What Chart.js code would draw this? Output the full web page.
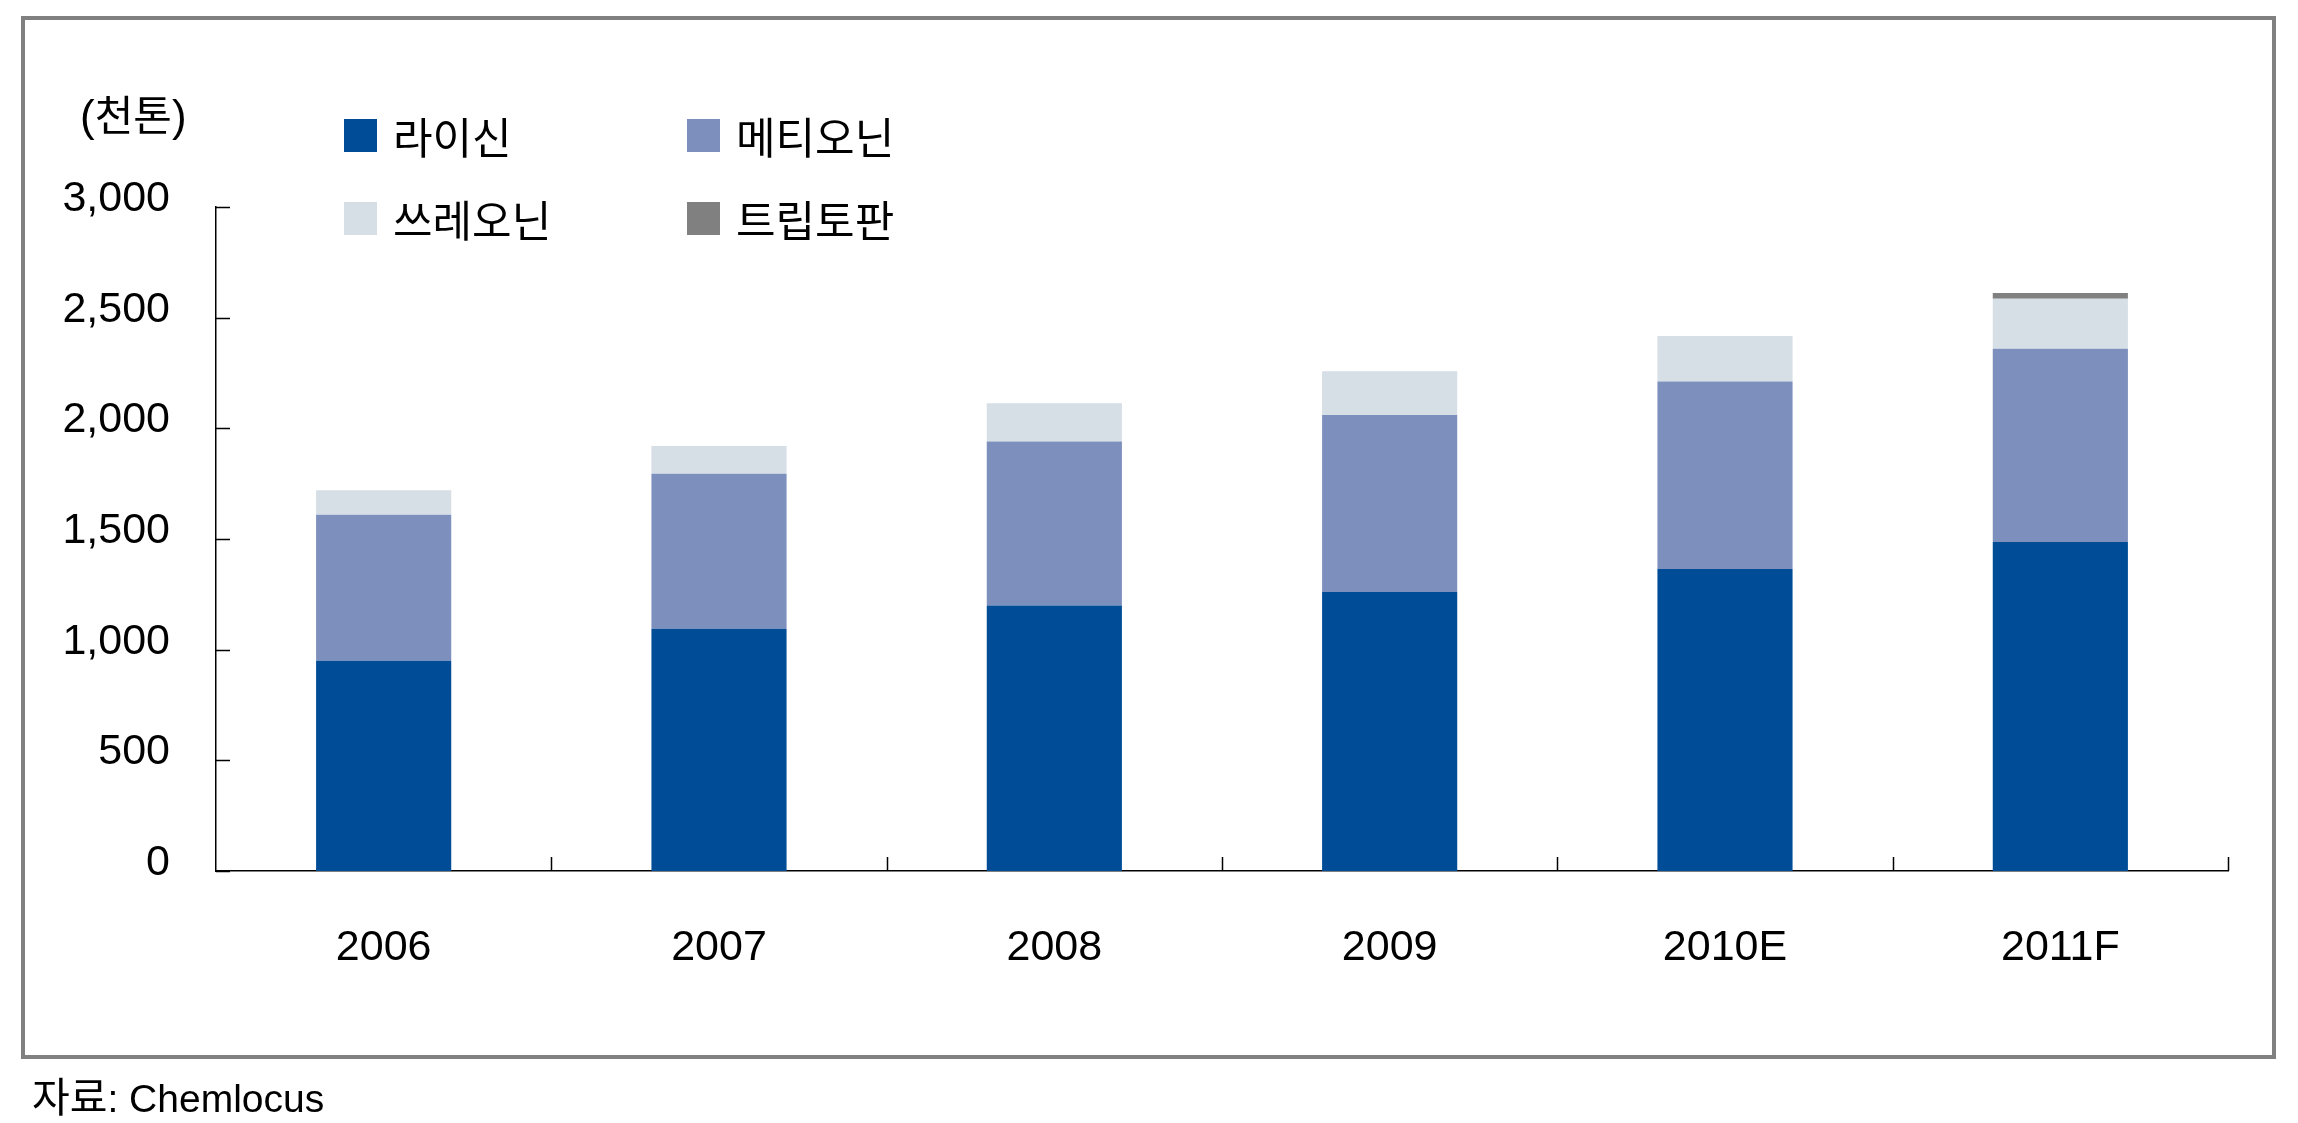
<!DOCTYPE html>
<html lang="ko">
<head>
<meta charset="utf-8">
<title>아미노산 수요</title>
<script src="https://cdn.jsdelivr.net/npm/chart.js@4.4.1/dist/chart.umd.min.js"></script>
<style>
  html, body { margin: 0; padding: 0; background: #fff; }
  #wrap { position: relative; width: 2298px; height: 1123px; overflow: hidden; }
  #frame { position: absolute; left: 21px; top: 16px; width: 2255px; height: 1043px;
           border: 4px solid #808080; box-sizing: border-box; }
  #chartBox { position: absolute; left: 0; top: 0; width: 2298px; height: 1123px; }
  .txt { position: absolute; color: #000; white-space: nowrap;
         font-family: "Liberation Sans Narrow", "Arial Narrow", "Liberation Sans", Arial, sans-serif; }
  .kr { font-family: "Noto Sans CJK KR", sans-serif; }
  #unit { left: 80px; top: 86px; font-size: 44px; line-height: 54px; }
  #unit .kr { font-size: 42px; }
  #source { left: 32px; top: 1068px; font-size: 39px; line-height: 52px; }
  #source .kr { font-size: 41px; }
  .leg { position: absolute; display: flex; align-items: center; height: 40px; }
  .leg i { display: inline-block; width: 33px; height: 33px; margin-right: 16px; }
  .leg span { font-family: "Noto Sans CJK KR", sans-serif; font-size: 43px; line-height: 40px; }
</style>
</head>
<body>
<div id="wrap">
  <div id="frame"></div>
  <div id="chartBox"><canvas id="chart"></canvas></div>
  <div class="txt" id="unit">(<span class="kr">천톤</span>)</div>
  <div id="legend"></div>
  <div class="txt" id="source"><span class="kr">자료</span>: Chemlocus</div>
</div>
<script>
// 연도
const years = ['2006', '2007', '2008', '2009', '2010E', '2011F'];

// 아미노산별 수요 (천톤)
const lysine = [950, 1095, 1200, 1260, 1365, 1487];
const methionine = [660, 700, 740, 800, 847, 872];
const threonine = [110, 125, 173, 198, 205, 226];
const tryptophan = [0, 0, 0, 0, 0, 27];

const seriesNames = ['라이신', '메티오닌', '쓰레오닌', '트립토판'];
const seriesColors = ['#004C97', '#7D8FBC', '#D6DEE6', '#808080'];

const yTicks = [0, 500, 1000, 1500, 2000, 2500, 3000];

const numFont = '"Liberation Sans Narrow", "Arial Narrow", "Liberation Sans", sans-serif';

// 범례 (2열 x 2행)
const legendPos = [[344, 115], [687, 115], [344, 198], [687, 198]];
const legendBox = document.getElementById('legend');
seriesNames.forEach((name, i) => {
    const item = document.createElement('div');
    item.className = 'leg';
    item.style.left = legendPos[i][0] + 'px';
    item.style.top = legendPos[i][1] + 'px';
    item.innerHTML = '<i style="background:' + seriesColors[i] + '"></i><span>' + name + '</span>';
    legendBox.appendChild(item);
});

// 축 안쪽 눈금 그리기
const innerTicks = {
    id: 'innerTicks',
    afterDraw(chart) {
        const ctx = chart.ctx;
        const area = chart.chartArea;
        const ys = chart.scales.y;
        ctx.save();
        ctx.strokeStyle = '#000';
        ctx.lineWidth = 1.5;
        ctx.beginPath();
        ys.ticks.forEach(t => {
            const y = Math.round(ys.getPixelForValue(t.value)) + 0.5;
            ctx.moveTo(area.left, y);
            ctx.lineTo(area.left + 14, y);
        });
        const step = (area.right - area.left) / years.length;
        for (let i = 1; i <= years.length; i++) {
            const x = Math.round(area.left + i * step) + 0.5;
            ctx.moveTo(x, area.bottom);
            ctx.lineTo(x, area.bottom - 14);
        }
        ctx.stroke();
        ctx.restore();
    }
};

const datasets = [lysine, methionine, threonine, tryptophan].map((d, i) => ({
    label: seriesNames[i],
    data: d,
    backgroundColor: seriesColors[i],
    borderWidth: 0,
    categoryPercentage: 1,
    barPercentage: 0.403
}));

new Chart(document.getElementById('chart').getContext('2d'), {
    type: 'bar',
    data: { labels: years, datasets: datasets },
    options: {
        responsive: true,
        maintainAspectRatio: false,
        animation: false,
        layout: { padding: { top: 207, right: 70, left: 0, bottom: 0 } },
        plugins: { legend: { display: false }, tooltip: { enabled: false } },
        scales: {
            x: {
                stacked: true,
                grid: { display: false },
                border: { display: true, color: '#000', width: 1.5 },
                ticks: { color: '#000', padding: 43, font: { family: numFont, size: 43 } },
                afterFit: s => { s.height = 252; }
            },
            y: {
                stacked: true,
                min: 0,
                max: 3000,
                afterBuildTicks: s => { s.ticks = yTicks.map(v => ({ value: v })); },
                grid: { display: false },
                border: { display: true, color: '#000', width: 1.5 },
                ticks: {
                    color: '#000',
                    padding: 38,
                    labelOffset: -8,
                    font: { family: numFont, size: 43 },
                    callback: v => v.toLocaleString('en-US')
                },
                afterFit: s => { s.width = 216; }
            }
        }
    },
    plugins: [innerTicks]
});
</script>
</body>
</html>
